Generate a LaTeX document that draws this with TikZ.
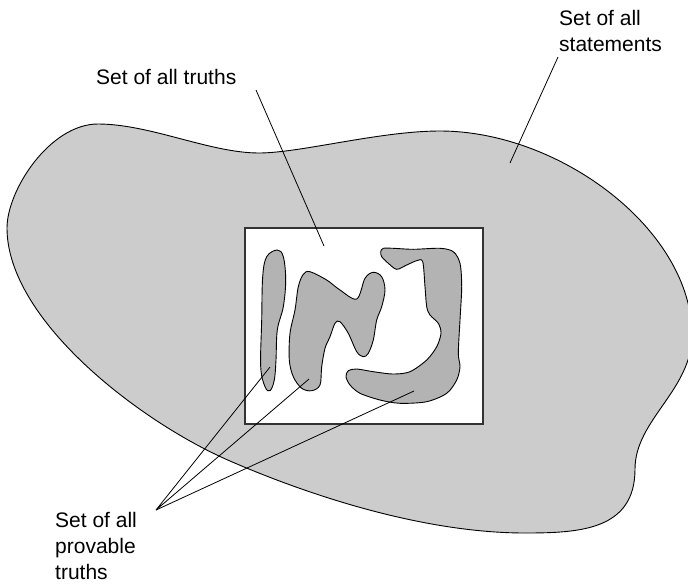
\documentclass[tikz,border=0pt]{standalone}
\usepackage{fontspec}
\setmainfont{Liberation Sans}
\definecolor{outergray}{HTML}{CCCCCC}
\definecolor{innergray}{HTML}{B3B3B3}
\definecolor{boxline}{HTML}{333333}
\tikzset{
  blob/.style={draw=black, line width=0.9pt, fill=outergray},
  provable/.style={draw=black, line width=0.9pt, fill=innergray},
  truthbox/.style={draw=boxline, line width=1.3pt, fill=white, minimum width=238pt, minimum height=196pt, inner sep=0pt},
  label/.style={inner sep=0pt, align=left, anchor=north west, font=\fontsize{21}{25.5}\selectfont},
  pointer/.style={draw=black, line width=0.8pt}
}
\begin{document}
\begin{tikzpicture}[x=1pt, y=-1pt]
\useasboundingbox (0,0) rectangle (688,584);
\begin{scope}
\clip (0,0) rectangle (688,584);
\draw[blob] (98,124)
  .. controls (150,124) and (210,153) .. (259,153)
  .. controls (300,153) and (380,131) .. (440,131)
  .. controls (560,131) and (692,230) .. (692,335)
  .. controls (692,390) and (635,420) .. (635,469)
  .. controls (635,530) and (580,533) .. (525,533)
  .. controls (430,533) and (320,500) .. (230,461)
  .. controls (140,422) and (7,320) .. (7,228)
  .. controls (7,190) and (50,124) .. (98,124) -- cycle;
\end{scope}
\node[truthbox] (box) at (364,326) {};
% left narrow shape
\draw[provable] plot[smooth cycle, tension=0.6] coordinates {
 (277.3,250) (283.3,256.7) (285.7,280) (283.3,306.7) (277.3,330) (276,360)
 (274.3,380) (270,390.7) (265,386.7) (260.7,366.7) (261.7,320) (262.7,276.7) (266.7,256.7)};
% N shape
\draw[provable] plot[smooth cycle, tension=0.55] coordinates {
 (310,271.7) (326.7,280) (340,290) (356.7,299) (365,278.3) (373.3,272.3) (381.7,276.7)
 (385,290) (381.7,306.7) (376.7,320) (373.3,340) (368.3,353.3) (363.3,356.7)
 (356.7,351.7) (348.3,333.3) (340,321.7) (335,323.3) (330,336.7) (325,348.3)
 (321.7,366.7) (320,385) (311.7,390.7) (301.7,388.3) (293.3,376.7) (289.3,360)
 (290,333.3) (295,310) (298.3,286.7) (303.3,274.3)};
% J shape
\draw[provable] plot[smooth cycle, tension=0.5] coordinates {
 (383.3,248.3) (393.3,248.3) (413.3,249.3) (440,248.3) (453.3,251.7) (460,263.3)
 (461.7,286.7) (460,320) (458.3,353.3) (460,366.7) (456.7,380) (446.7,393.3)
 (426.7,401.7) (400,403.3) (380,400) (360,393.3) (350,385) (346,376.7) (348.3,370.7)
 (356.7,369) (373.3,371.7) (393.3,374) (410,371.7) (426.7,360) (436.7,346.7)
 (441,333.3) (438.3,323.3) (430,315) (426.7,306.7) (425,286.7) (422.7,261.7)
 (416.7,260.7) (406.7,265) (396.7,269.3) (388.3,263.3) (381.7,256.7) (380.7,251.7)};
% labels
\node[label] (truths) at (96,69.5) {Set of all truths};
\node[label] (statements) at (559,10.5) {Set of all\\statements};
\node[label, font=\fontsize{21}{26}\selectfont] (provlabel) at (55,512) {Set of all\\provable\\truths};
% pointer ends
\coordinate (truthsTail) at (256,90);
\coordinate (truthsHead) at (324,246);
\coordinate (stmTail) at (558,57);
\coordinate (stmHead) at (510,163);
\coordinate (apex) at (156,510);
\coordinate (p1) at (270,367);
\coordinate (p2) at (309,379);
\coordinate (p3) at (414,391);
\draw[pointer] (truthsTail) -- (truthsHead);
\draw[pointer] (stmTail) -- (stmHead);
\draw[pointer] (p1) -- (apex) -- (p2);
\draw[pointer] (apex) -- (p3);
\end{tikzpicture}
\end{document}
